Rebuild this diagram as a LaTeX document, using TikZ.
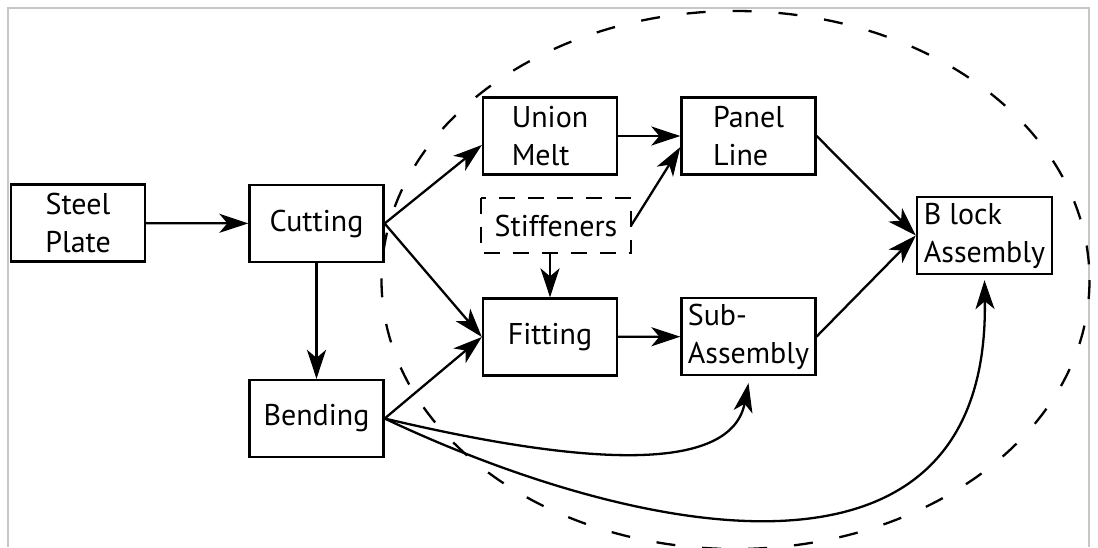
\documentclass[tikz,border=0pt]{standalone}
\usepackage{fontspec}
\setmainfont{PT Sans}
\usetikzlibrary{arrows.meta}
\begin{document}
\begin{tikzpicture}[x=1pt,y=-1pt,
  box/.style={draw, line width=2.3pt, minimum width=134pt, minimum height=77pt, inner sep=0pt,
    font=\fontsize{30}{38}\selectfont},
  arr/.style={line width=2.3pt, -{Stealth[length=29pt,width=19pt,inset=8pt]}},
  ring/.style={line width=2.3pt, dash pattern=on 19pt off 27pt},
  frame/.style={draw=black!22, line width=1.5pt}
]
\clip (0,0) rectangle (1098,547);
\draw[frame] (8,547) -- (8,8) -- (1089,8) -- (1089,547);

\draw[ring] (735.5,280) ellipse [x radius=354, y radius=269];

\node[box, align=center] (sp)  at (78,223)     {Steel\\Plate};
\node[box] (cut) at (316.5,223.5) {Cutting};
\node[box] (bend) at (316.5,418.5) {Bending};
\node[box, align=left] (um)  at (550,136)   {Union\\Melt};
\node[box, align=left] (pl)  at (748.5,136) {Panel\\Line};
\node[box, minimum width=148pt, minimum height=53pt, draw=none] (st) at (556,225.5) {Stiffeners};
\draw[line width=2.3pt, dash pattern=on 16pt off 13pt] (st.north west) rectangle (st.south east);
\node[box] (fit) at (550,337) {Fitting};
\node[box, align=left] (sub) at (748.5,336.5) {Sub-\\Assembly};
\node[box, align=left, minimum width=135pt] (blk) at (984.5,235.5) {B lock\\Assembly};

\draw[arr] (sp) -- (cut);
\draw[arr] (cut.east) -- ([yshift=-9pt]um.west);
\draw[arr] (cut.east) -- (fit.west);
\draw[arr] (cut) -- (bend);
\draw[arr] (bend.east) -- (fit.west);
\draw[arr] (um.east) -- (pl.west);
\draw[arr] (st.east) -- ([yshift=-11pt]pl.west);
\draw[arr] (st.south -| fit.north) -- (fit.north);
\draw[arr] (fit) -- (sub);
\draw[arr] (pl.east) -- (blk.west);
\draw[arr] (sub.east) -- (blk.west);
\draw[arr] (bend.east) .. controls (560,460) and (730,480) .. ([yshift=-7pt]sub.south);
\draw[arr] (bend.east) .. controls (620,530) and (990,620) .. ([yshift=-5pt]blk.south);
\end{tikzpicture}
\end{document}
